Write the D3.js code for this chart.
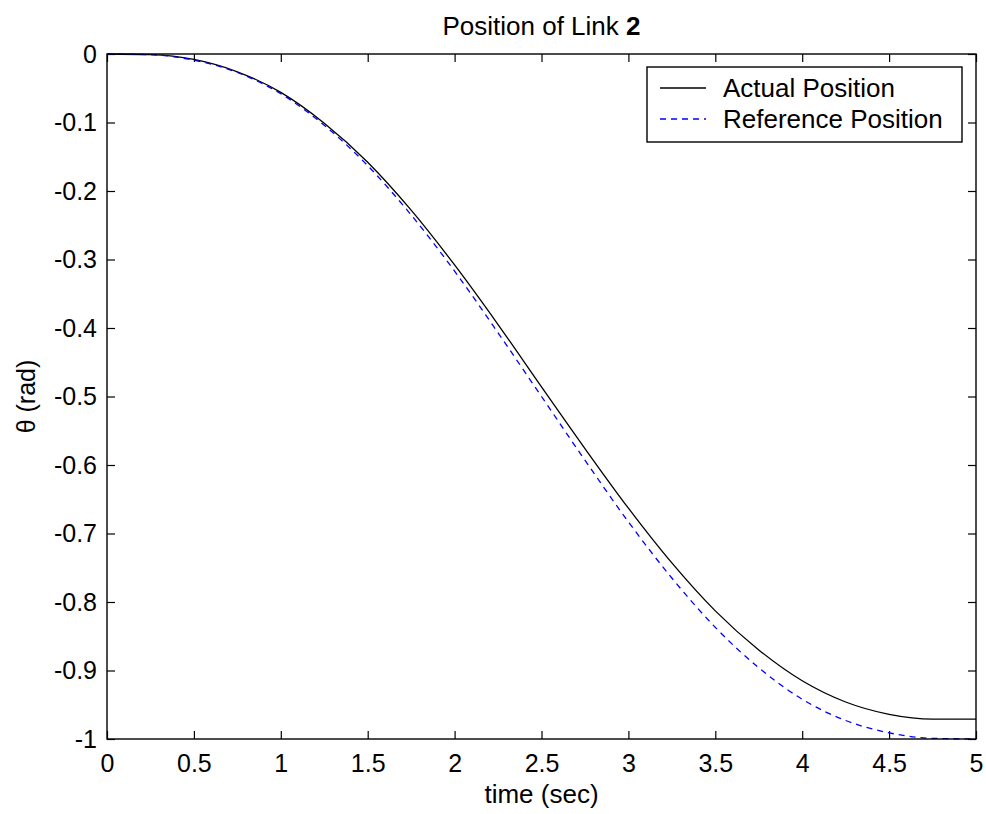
<!DOCTYPE html>
<html>
<head>
<meta charset="utf-8">
<script src="https://cdn.jsdelivr.net/npm/d3@7"></script>
<style>
  html, body { margin: 0; padding: 0; background: #ffffff; }
  svg { display: block; }
  text { font-family: "Liberation Sans", Arial, Helvetica, sans-serif; fill: #000; }
</style>
</head>
<body>
<svg id="chart" width="986" height="814"></svg>
<script>
// ---- data ----
const timeSec = [0, 0.25, 0.5, 0.75, 1, 1.25, 1.5, 1.75, 2, 2.25, 2.5, 2.75, 3, 3.25, 3.5, 3.75, 4, 4.25, 4.5, 4.75, 5];
const actualPosition = [0, -0.001, -0.008, -0.026, -0.056, -0.101, -0.158, -0.228, -0.308, -0.395, -0.486, -0.576, -0.663, -0.743, -0.813, -0.870, -0.915, -0.946, -0.964, -0.971, -0.971];
const referencePosition = [0, -0.001, -0.009, -0.027, -0.058, -0.104, -0.163, -0.235, -0.317, -0.407, -0.500, -0.593, -0.683, -0.765, -0.837, -0.896, -0.942, -0.973, -0.991, -0.999, -1.000];
const seriesNames = ["Actual Position", "Reference Position"];
const xTicks = [0, 0.5, 1, 1.5, 2, 2.5, 3, 3.5, 4, 4.5, 5];
const xTickLabels = ["0", "0.5", "1", "1.5", "2", "2.5", "3", "3.5", "4", "4.5", "5"];
const yTicks = [0, -0.1, -0.2, -0.3, -0.4, -0.5, -0.6, -0.7, -0.8, -0.9, -1];
const yTickLabels = ["0", "-0.1", "-0.2", "-0.3", "-0.4", "-0.5", "-0.6", "-0.7", "-0.8", "-0.9", "-1"];
const titleText = "Position of Link ";
const titleBold = "2";
const xLabel = "time (sec)";
const yLabel = "\u03B8 (rad)";

(function () {
const svg = d3.select("#chart");
const W = 986, H = 814;
const pL = 107, pR = 976, pT = 54, pB = 739;

svg.append("rect").attr("width", W).attr("height", H).attr("fill", "#fff");

const x = d3.scaleLinear().domain([0, 5]).range([pL, pR]);
const y = d3.scaleLinear().domain([-1, 0]).range([pB, pT]);

const tickFont = 25;

const gB = svg.append("g").attr("transform", `translate(0,${pB})`)
  .call(d3.axisBottom(x).tickValues(xTicks).tickFormat((d, i) => xTickLabels[i])
    .tickSizeInner(-8).tickSizeOuter(0).tickPadding(15));
const gL = svg.append("g").attr("transform", `translate(${pL},0)`)
  .call(d3.axisLeft(y).tickValues(yTicks).tickFormat((d, i) => yTickLabels[i])
    .tickSizeInner(-8).tickSizeOuter(0).tickPadding(10));
const gT = svg.append("g").attr("transform", `translate(0,${pT})`)
  .call(d3.axisTop(x).tickValues(xTicks).tickFormat("")
    .tickSizeInner(-8).tickSizeOuter(0));
const gR = svg.append("g").attr("transform", `translate(${pR},0)`)
  .call(d3.axisRight(y).tickValues(yTicks).tickFormat("")
    .tickSizeInner(-8).tickSizeOuter(0));

[gB, gL, gT, gR].forEach(g => {
  g.select(".domain").remove();
  g.selectAll(".tick line").attr("stroke", "#000").attr("stroke-width", 1.2);
  g.selectAll("text").attr("font-size", tickFont).attr("fill", "#000")
    .style("font-family", '"Liberation Sans", Arial, sans-serif');
});

const line = d3.line()
  .x((d, i) => x(timeSec[i]))
  .y(d => y(d))
  .curve(d3.curveMonotoneX);

svg.append("clipPath").attr("id", "plotclip")
  .append("rect").attr("x", pL).attr("y", pT - 2).attr("width", pR - pL).attr("height", pB - pT + 4);

const gLines = svg.append("g").attr("clip-path", "url(#plotclip)");
gLines.append("path").datum(actualPosition)
  .attr("d", line).attr("fill", "none").attr("stroke", "#000").attr("stroke-width", 1.3);
gLines.append("path").datum(referencePosition)
  .attr("d", line).attr("fill", "none").attr("stroke", "#0000ff").attr("stroke-width", 1.3)
  .attr("stroke-dasharray", "6,5");

svg.append("rect").attr("x", pL).attr("y", pT)
  .attr("width", pR - pL).attr("height", pB - pT)
  .attr("fill", "none").attr("stroke", "#000").attr("stroke-width", 1.4);

const t = svg.append("text").attr("x", (pL + pR) / 2).attr("y", 35)
  .attr("text-anchor", "middle").attr("font-size", 26);
t.append("tspan").text(titleText);
t.append("tspan").attr("font-weight", "bold").text(titleBold);

svg.append("text").attr("x", (pL + pR) / 2).attr("y", 803)
  .attr("text-anchor", "middle").attr("font-size", 26).text(xLabel);

svg.append("text").attr("transform", `translate(35,${(pT + pB) / 2}) rotate(-90)`)
  .attr("text-anchor", "middle").attr("font-size", 25).text(yLabel);

const lg = svg.append("g");
lg.append("rect").attr("x", 647).attr("y", 67).attr("width", 962 - 647).attr("height", 142 - 67)
  .attr("fill", "#fff").attr("stroke", "#000").attr("stroke-width", 1.4);
const legendRows = [
  { name: seriesNames[0], color: "#000", dash: null, yy: 88 },
  { name: seriesNames[1], color: "#0000ff", dash: "6,5", yy: 119 }
];
legendRows.forEach(r => {
  lg.append("line").attr("x1", 660).attr("x2", 706).attr("y1", r.yy).attr("y2", r.yy)
    .attr("stroke", r.color).attr("stroke-width", 1.3)
    .attr("stroke-dasharray", r.dash);
  lg.append("text").attr("x", 723).attr("y", r.yy).attr("dy", "0.36em")
    .attr("font-size", 26).text(r.name);
});
})();
</script>
</body>
</html>
